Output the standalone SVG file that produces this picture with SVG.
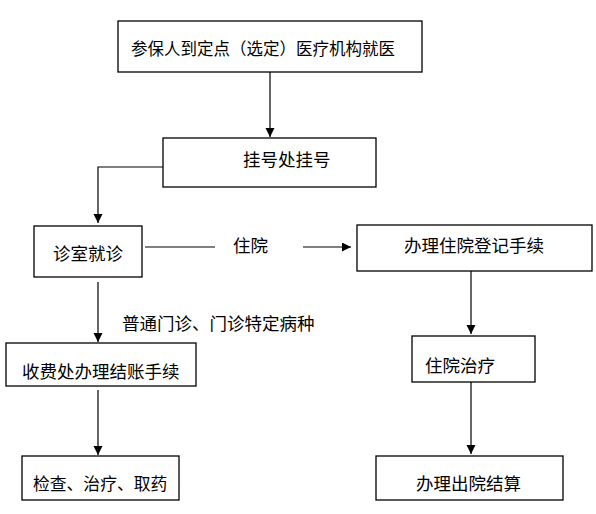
<svg xmlns="http://www.w3.org/2000/svg" width="596" height="514" viewBox="0 0 596 514">
<defs>
<style>
.box{fill:#fff;stroke:#000;stroke-width:1.3}
.t{font-family:"Noto Sans CJK SC","Microsoft YaHei",sans-serif;font-size:17.5px;fill:#000}
.c{fill:none;stroke:#000;stroke-width:1.2}
</style>
<marker id="ah" markerWidth="10" markerHeight="10" refX="9" refY="4.5" orient="auto" markerUnits="userSpaceOnUse">
<path d="M0,0 L9,4.5 L0,9 Z" fill="#000"/>
</marker>
</defs>
<rect width="596" height="514" fill="#fff"/>
<g id="connectors">
<path class="c" d="M270,72 V137" marker-end="url(#ah)"/>
<path class="c" d="M163,167 H98 V223" marker-end="url(#ah)"/>
<path class="c" d="M145,247 H215"/>
<path class="c" d="M303,247 H351" marker-end="url(#ah)"/>
<path class="c" d="M98,282 V342" marker-end="url(#ah)"/>
<path class="c" d="M98,390 V455" marker-end="url(#ah)"/>
<path class="c" d="M471,271 V334" marker-end="url(#ah)"/>
<path class="c" d="M471,382 V454" marker-end="url(#ah)"/>
<text class="t" x="233" y="252">住院</text>
<text class="t" x="122" y="330">普通门诊、门诊特定病种</text>
</g>
<g id="n1"><rect class="box" x="118" y="21" width="304" height="51"/><text class="t" x="131" y="55" style="font-size:16.5px">参保人到定点（选定）医疗机构就医</text></g>
<g id="n2"><rect class="box" x="163" y="138" width="213" height="49"/><text class="t" x="243" y="166">挂号处挂号</text></g>
<g id="n3"><rect class="box" x="34" y="226" width="108" height="51"/><text class="t" x="53" y="260">诊室就诊</text></g>
<g id="n4"><rect class="box" x="357" y="225" width="235" height="46"/><text class="t" x="404" y="252">办理住院登记手续</text></g>
<g id="n5"><rect class="box" x="412" y="336" width="123" height="46"/><text class="t" x="425" y="372">住院治疗</text></g>
<g id="n6"><rect class="box" x="376" y="456" width="187" height="44"/><text class="t" x="416" y="490">办理出院结算</text></g>
<g id="n7"><rect class="box" x="6" y="343" width="190" height="43"/><text class="t" x="22" y="378">收费处办理结账手续</text></g>
<g id="n8"><rect class="box" x="22" y="456" width="157" height="44"/><text class="t" x="33" y="490" style="font-size:16.8px">检查、治疗、取药</text></g>
</svg>
